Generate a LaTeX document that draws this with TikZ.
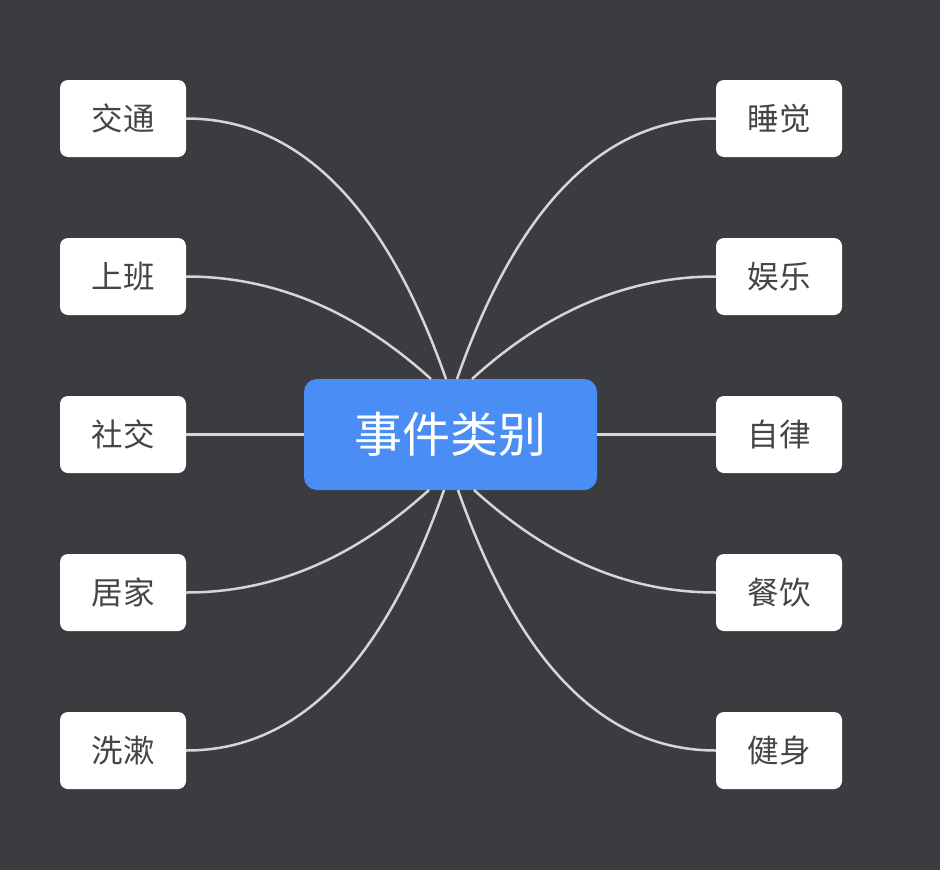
\documentclass[tikz,border=0pt]{standalone}
\usepackage{fontspec}
\newfontfamily\cjk{Noto Sans CJK SC}
\definecolor{bgc}{HTML}{3A3C40}
\definecolor{hub}{HTML}{4A8EF5}
\definecolor{leaftxt}{HTML}{454545}
\definecolor{wire}{HTML}{D6D6D6}
\begin{document}
\begin{tikzpicture}[x=1pt,y=-1pt,
  leaf/.style={draw=none,fill=white,rounded corners=8pt,minimum width=126pt,minimum height=77pt,inner sep=0pt,
    font=\cjk\fontsize{31.5}{31.5}\selectfont,text=leaftxt},
  hubbox/.style={draw=none,fill=hub,rounded corners=13pt,minimum width=293pt,minimum height=111pt,inner sep=0pt,
    font=\cjk\fontsize{48}{48}\selectfont,text=white},
  wirel/.style={draw=wire,line width=2.5pt}]
\fill[bgc] (0,0) rectangle (940,870);
\useasboundingbox (0,0) rectangle (940,870);
% center
\node[hubbox] (c) at (450.5,434.5) {事件类别};
% left leaves
\node[leaf] (l1) at (123,118.5) {交通};
\node[leaf] (l2) at (123,276.5) {上班};
\node[leaf] (l3) at (123,434.5) {社交};
\node[leaf] (l4) at (123,592.5) {居家};
\node[leaf] (l5) at (123,750.5) {洗漱};
% right leaves
\node[leaf] (r1) at (779,118.5) {睡觉};
\node[leaf] (r2) at (779,276.5) {娱乐};
\node[leaf] (r3) at (779,434.5) {自律};
\node[leaf] (r4) at (779,592.5) {餐饮};
\node[leaf] (r5) at (779,750.5) {健身};
% attach points on hub
\coordinate (t1) at (446,379);
\coordinate (t2) at (431,379);
\coordinate (t3) at (457,379);
\coordinate (t4) at (472,379);
\coordinate (b1) at (444,490);
\coordinate (b2) at (429,490);
\coordinate (b3) at (458,490);
\coordinate (b4) at (474,490);
% connectors
\draw[wirel] (l1.east) .. controls +(112,0) and +(-61,-174) .. (t1);
\draw[wirel] (l2.east) .. controls +(87,0) and +(-76,-69) .. (t2);
\draw[wirel] (l3.east) -- (c.west);
\draw[wirel] (l4.east) .. controls +(87,0) and +(-76,69) .. (b2);
\draw[wirel] (l5.east) .. controls +(112,0) and +(-61,174) .. (b1);
\draw[wirel] (r1.west) .. controls +(-112,0) and +(61,-174) .. (t3);
\draw[wirel] (r2.west) .. controls +(-87,0) and +(76,-69) .. (t4);
\draw[wirel] (r3.west) -- (c.east);
\draw[wirel] (r4.west) .. controls +(-87,0) and +(76,69) .. (b4);
\draw[wirel] (r5.west) .. controls +(-112,0) and +(61,174) .. (b3);
\end{tikzpicture}
\end{document}
